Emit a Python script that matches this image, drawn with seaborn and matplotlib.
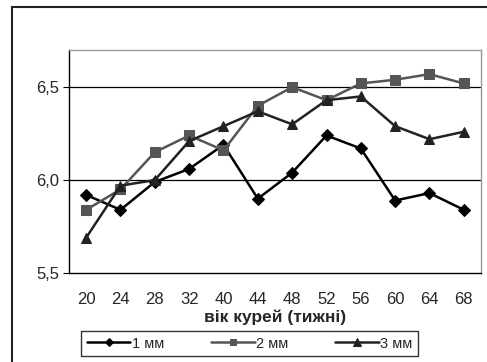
import matplotlib
matplotlib.use("Agg")
import matplotlib.pyplot as plt
import seaborn as sns
import pandas as pd
import numpy as np
from matplotlib.patches import Rectangle

weeks = ["20", "24", "28", "32", "40", "44", "48", "52", "56", "60", "64", "68"]
s1 = [5.92, 5.84, 5.99, 6.06, 6.19, 5.90, 6.04, 6.24, 6.17, 5.89, 5.93, 5.84]
s2 = [5.84, 5.95, 6.15, 6.24, 6.16, 6.40, 6.50, 6.43, 6.52, 6.54, 6.57, 6.52]
s3 = [5.69, 5.97, 6.00, 6.21, 6.29, 6.37, 6.30, 6.43, 6.45, 6.29, 6.22, 6.26]
names = ["1 мм", "2 мм", "3 мм"]
yticks = [5.5, 6.0, 6.5]
ytick_labels = ["5,5", "6,0", "6,5"]

sns.set_theme(style="white")
plt.rcParams['font.family'] = ['Liberation Sans', 'DejaVu Sans']

df = pd.concat([
    pd.DataFrame({"week": weeks, "val": s, "series": n})
    for s, n in zip([s1, s2, s3], names)
])

fig = plt.figure(figsize=(4.87, 3.62), dpi=100)
ax = fig.add_axes([69/487, 89/362, 412/487, 223/362])

colors = ["#000000", "#555555", "#222222"]
markers = ["D", "s", "^"]
sizes = [5.8, 6.5, 7.5]
for n, c, m, ms in zip(names, colors, markers, sizes):
    sub = df[df.series == n]
    sns.lineplot(data=sub, x="week", y="val", ax=ax, color=c, marker=m,
                 markersize=ms, markeredgecolor=c, linewidth=1.8, label=n,
                 sort=False, errorbar=None)

ax.set_ylim(5.5, 6.7)
ax.set_xlim(-0.5, len(weeks) - 0.5)
ax.set_yticks(yticks)
ax.set_yticklabels(ytick_labels, fontsize=12)
ax.set_xticks(range(len(weeks)))
ax.set_xticklabels(weeks, fontsize=12)
ax.set_xticks(np.arange(-0.5, len(weeks), 1.0), minor=True)
ax.tick_params(axis='x', which='major', length=0, pad=14)
ax.tick_params(axis='x', which='minor', length=4, width=0.8, color='black', direction='out')
ax.tick_params(axis='y', which='major', length=4, width=0.8, color='black', direction='out',
               left=True, pad=3)
for y in yticks[1:]:
    ax.axhline(y, color='black', linewidth=0.9, zorder=0)

for side in ['top', 'right']:
    ax.spines[side].set_color('#999999')
    ax.spines[side].set_linewidth(1.0)
for side in ['bottom', 'left']:
    ax.spines[side].set_color('black')
    ax.spines[side].set_linewidth(1.0)

ax.set_xlabel("вік курей (тижні)", fontsize=12.5, fontweight='bold', labelpad=1.5)
ax.set_ylabel("")

ax.get_legend().remove()
handles, labels = ax.get_legend_handles_labels()
leg = fig.legend(handles, labels, loc='center', bbox_to_anchor=(249.5/487, 1 - 343.5/362),
                 ncol=3, fontsize=10.5, frameon=True, fancybox=False, edgecolor='black',
                 handlelength=3.0, columnspacing=3.2, handletextpad=0.1,
                 borderpad=0.4, markerscale=0.75)
leg.get_frame().set_linewidth(1.0)

fig.patches.append(Rectangle((12/487, -0.1), 1.0, 1 - 6.5/362 + 0.1, transform=fig.transFigure,
                             fill=False, edgecolor='#222222', linewidth=1.5))

fig.savefig("out.png", dpi=100)
